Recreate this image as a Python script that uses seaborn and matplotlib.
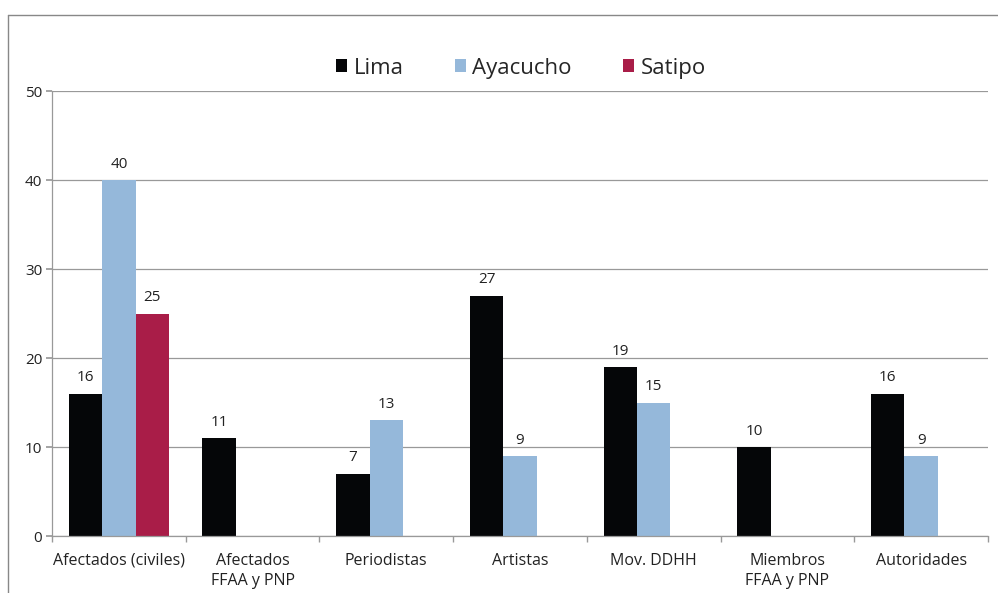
import numpy as np
import pandas as pd
import matplotlib
matplotlib.use("Agg")
import matplotlib.pyplot as plt
import seaborn as sns
from matplotlib.lines import Line2D
from matplotlib.ticker import FixedLocator

categories = ["Afectados (civiles)", "Afectados\nFFAA y PNP", "Periodistas", "Artistas",
              "Mov. DDHH", "Miembros\nFFAA y PNP", "Autoridades"]
series = ["Lima", "Ayacucho", "Satipo"]
lima = [16, 11, 7, 27, 19, 10, 16]
ayacucho = [40, np.nan, 13, 9, 15, np.nan, 9]
satipo = [25, np.nan, np.nan, np.nan, np.nan, np.nan, np.nan]
colors = ["#050608", "#95B8DA", "#A91D48"]
yticks = [0, 10, 20, 30, 40, 50]

sns.set_theme(style="white")
plt.rcParams["font.family"] = ["Open Sans", "DejaVu Sans"]

rows = []
for name, vals in zip(series, [lima, ayacucho, satipo]):
    for c, v in zip(categories, vals):
        rows.append({"cat": c, "serie": name, "val": v})
df = pd.DataFrame(rows)

fig = plt.figure(figsize=(9.98, 5.93), dpi=100)
ax = fig.add_axes([0.0521, 0.0961, 0.9379, 0.7504])

sns.barplot(data=df, x="cat", y="val", hue="serie", order=categories, hue_order=series,
            palette=colors, width=0.75, dodge=True, saturation=1, ax=ax, legend=True,
            edgecolor="none", linewidth=0)

for cont in ax.containers:
    labels = ["" if np.isnan(v) else f"{int(v)}" for v in cont.datavalues]
    ax.bar_label(cont, labels=labels, padding=6, fontsize=11, color="#222222")

ax.set_ylim(0, 50)
ax.set_yticks(yticks)
ax.set_xlim(-0.5, len(categories) - 0.5)
ax.yaxis.grid(True, color="#999999", linewidth=0.9)
ax.set_axisbelow(True)
ax.set_xlabel("")
ax.set_ylabel("")
for s in ["top", "right"]:
    ax.spines[s].set_visible(False)
for s in ["left", "bottom"]:
    ax.spines[s].set_color("#999999")
    ax.spines[s].set_linewidth(0.9)
ax.tick_params(axis="y", which="major", left=True, length=4, color="#999999",
               labelsize=11, labelcolor="#222222", pad=3)
ax.tick_params(axis="x", which="major", bottom=False, labelsize=11.5, labelcolor="#222222", pad=6)
for t in ax.get_xticklabels():
    t.set_linespacing(1.35)
ax.xaxis.set_minor_locator(FixedLocator(np.arange(-0.5, len(categories), 1.0)))
ax.tick_params(axis="x", which="minor", bottom=True, length=4, color="#999999")

handles, labs = ax.get_legend_handles_labels()
ax.legend(handles, labs, loc="center", bbox_to_anchor=(0.522, 0.885),
          bbox_transform=fig.transFigure, ncol=3, frameon=False, fontsize=16,
          handlelength=0.5, handleheight=0.5, handletextpad=0.3, columnspacing=2.3)

fig.add_artist(Line2D([0.008, 1.0], [0.9747, 0.9747], transform=fig.transFigure,
                      color="#888888", linewidth=1))
fig.add_artist(Line2D([0.008, 0.008], [0.0, 0.9747], transform=fig.transFigure,
                      color="#888888", linewidth=1))

fig.savefig("out.png", dpi=100)
